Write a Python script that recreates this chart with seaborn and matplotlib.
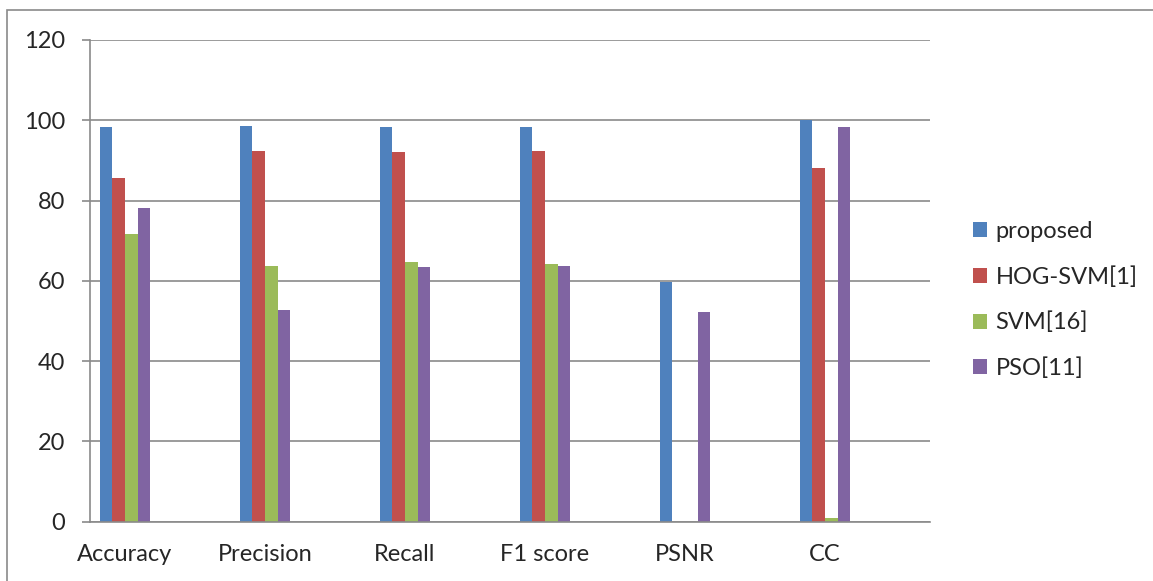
import numpy as np
import pandas as pd
import seaborn as sns
import matplotlib
matplotlib.use("Agg")
import matplotlib.pyplot as plt
from matplotlib.patches import Rectangle

# values
metrics = ["Accuracy", "Precision", "Recall", "F1 score", "PSNR", "CC"]
methods = ["proposed", "HOG-SVM[1]", "SVM[16]", "PSO[11]"]
proposed = [98.3, 98.6, 98.3, 98.3, 59.8, 100.0]
hog_svm = [85.7, 92.3, 92.2, 92.3, np.nan, 88.0]
svm = [71.6, 63.7, 64.6, 64.2, np.nan, 0.9]
pso = [78.1, 52.7, 63.5, 63.8, 52.2, 98.2]
colors = ["#4F81BD", "#C0504D", "#9BBB59", "#8064A2"]

rows = []
for m, vals in zip(methods, [proposed, hog_svm, svm, pso]):
    for metric, v in zip(metrics, vals):
        rows.append({"metric": metric, "method": m, "value": v})
df = pd.DataFrame(rows)

# every metric is followed by an empty category slot, like the original
order = []
for i, metric in enumerate(metrics):
    order += [metric, "_blank%d" % i]

sns.set_style("white")
plt.rcParams["font.family"] = ["Lato", "DejaVu Sans"]
grid_col = "#8a8a8a"
fs = 17

fig = plt.figure(figsize=(11.53, 5.81), dpi=100)
ax = fig.add_axes([90 / 1153, 1 - 521.5 / 581, 840 / 1153, 481.5 / 581])

sns.barplot(data=df, x="metric", y="value", hue="method", order=order,
            hue_order=methods, palette=colors, width=4 / 5.5, linewidth=0,
            saturation=1, ax=ax)

ax.set_ylim(0, 120)
ax.set_yticks(range(0, 121, 20))
ax.set_xlim(-0.5, len(order) - 0.5)
ax.set_xticks(range(len(order)))
ax.set_xticklabels([o if not o.startswith("_") else "" for o in order], fontsize=fs)
ax.set_xticks(np.arange(-0.5, len(order), 1), minor=True)
ax.tick_params(axis="x", which="major", length=0, pad=16)
ax.tick_params(axis="x", which="minor", length=6, width=1.2, color=grid_col, direction="out")
ax.tick_params(axis="y", length=6, width=1.2, color=grid_col, labelsize=fs, pad=12, left=True)
ax.set_xlabel("")
ax.set_ylabel("")
ax.yaxis.grid(True, color=grid_col, linewidth=1.2)
ax.set_axisbelow(True)
for s in ["top", "right"]:
    ax.spines[s].set_visible(False)
for s in ["left", "bottom"]:
    ax.spines[s].set_color(grid_col)
    ax.spines[s].set_linewidth(1.2)

handles, labels = ax.get_legend_handles_labels()
ax.legend_.remove()
fig.legend(handles, labels, loc="center left", bbox_to_anchor=(973 / 1153, 1 - 300 / 581),
           frameon=False, fontsize=fs, handlelength=0.6, handleheight=0.6,
           handletextpad=0.35, labelspacing=1.02, borderpad=0, borderaxespad=0)

# chart area border
fig.patches.append(Rectangle((7 / 1153, -0.1), 1.2, 1.1 - 10 / 581, transform=fig.transFigure,
                             fill=False, edgecolor=grid_col, linewidth=1.2))

fig.savefig("out.png", dpi=100)
